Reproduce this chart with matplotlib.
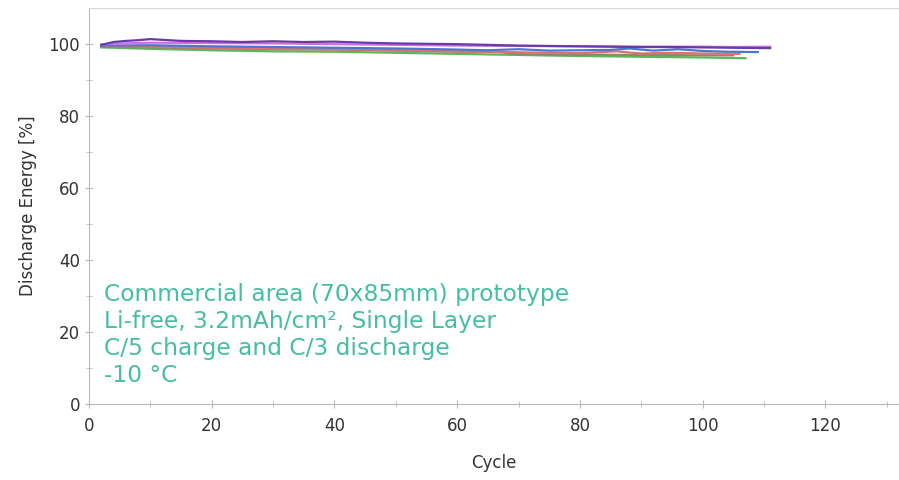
import numpy as np
import matplotlib.pyplot as plt

# cycle values and discharge energy (%)
cyc_purple = [2, 4, 6, 8, 10, 12, 15, 20, 25, 30, 35, 40, 45, 50, 55, 60, 65, 70, 75, 80, 85, 90, 95, 100, 105, 111]
en_purple = [99.8, 100.6, 100.9, 101.1, 101.4, 101.2, 100.9, 100.8, 100.6, 100.8, 100.6, 100.7, 100.4, 100.2, 100.1, 100.0, 99.8, 99.6, 99.5, 99.4, 99.3, 99.2, 99.2, 99.1, 99.0, 98.9]

cyc_violet = [2, 5, 10, 20, 30, 40, 50, 60, 70, 80, 90, 100, 105, 111]
en_violet = [99.9, 100.2, 100.4, 100.3, 100.2, 100.0, 99.8, 99.6, 99.5, 99.4, 99.3, 99.3, 99.2, 99.3]

cyc_blue = [2, 10, 20, 30, 40, 50, 60, 65, 70, 75, 80, 85, 88, 92, 96, 100, 104, 109]
en_blue = [99.6, 99.7, 99.4, 99.2, 99.0, 98.8, 98.5, 98.3, 98.6, 98.2, 98.3, 98.4, 98.8, 98.2, 98.6, 98.1, 97.9, 97.8]

cyc_red = [2, 10, 20, 30, 40, 50, 60, 68, 75, 80, 86, 90, 95, 100, 106]
en_red = [99.5, 99.3, 99.0, 98.8, 98.6, 98.3, 98.0, 97.8, 97.6, 97.5, 98.0, 97.4, 97.6, 97.4, 97.3]

cyc_grey = [2, 10, 20, 30, 40, 50, 60, 67, 70, 80, 90, 100, 105]
en_grey = [99.3, 99.1, 98.8, 98.6, 98.5, 98.2, 97.9, 97.8, 97.2, 97.1, 97.0, 96.9, 96.9]

cyc_green = [2, 10, 20, 30, 40, 50, 60, 70, 80, 90, 100, 107]
en_green = [99.1, 98.7, 98.3, 98.0, 97.9, 97.6, 97.3, 97.0, 96.7, 96.5, 96.3, 96.1]

note = ["Commercial area (70x85mm) prototype",
        "Li-free, 3.2mAh/cm\u00b2, Single Layer",
        "C/5 charge and C/3 discharge",
        "-10 \u00b0C"]

fig = plt.figure(figsize=(8.99, 4.8), dpi=100)
ax = fig.add_axes([0.099, 0.158, 0.901, 0.825])

ax.plot(cyc_green, en_green, color='#5cb85c', lw=1.6)
ax.plot(cyc_grey, en_grey, color='#8a8a6a', lw=1.6)
ax.plot(cyc_red, en_red, color='#e07070', lw=1.6)
ax.plot(cyc_blue, en_blue, color='#4a78d0', lw=1.6)
ax.plot(cyc_violet, en_violet, color='#d070e0', lw=1.6)
ax.plot(cyc_purple, en_purple, color='#6a3aa8', lw=1.6)

ax.set_xlim(0, 132)
ax.set_ylim(0, 110)
ax.set_xticks(np.arange(0, 121, 20))
ax.set_yticks(np.arange(0, 101, 20))
ax.set_xticks(np.arange(10, 131, 20), minor=True)
ax.set_yticks(np.arange(10, 101, 20), minor=True)

for s in ['left', 'bottom']:
    ax.spines[s].set_color('#b8b8b8')
ax.spines['top'].set_color('#d8d8d8')
ax.spines['right'].set_visible(False)
ax.tick_params(which='both', color='#b8b8b8', labelsize=12, labelcolor='#333333',
               direction='inout', length=6)
ax.tick_params(which='minor', length=4)
ax.tick_params(axis='x', pad=6)

ax.set_xlabel('Cycle', fontsize=12, color='#333333', labelpad=14)
ax.set_ylabel('Discharge Energy [%]', fontsize=12, color='#333333', labelpad=8)

for i, line in enumerate(note):
    ax.text(2.5, 30.5 - i * 7.5, line, fontsize=16.8, color='#45bea3',
            family='DejaVu Sans', va='center', ha='left')

fig.savefig('out.png', dpi=100)
